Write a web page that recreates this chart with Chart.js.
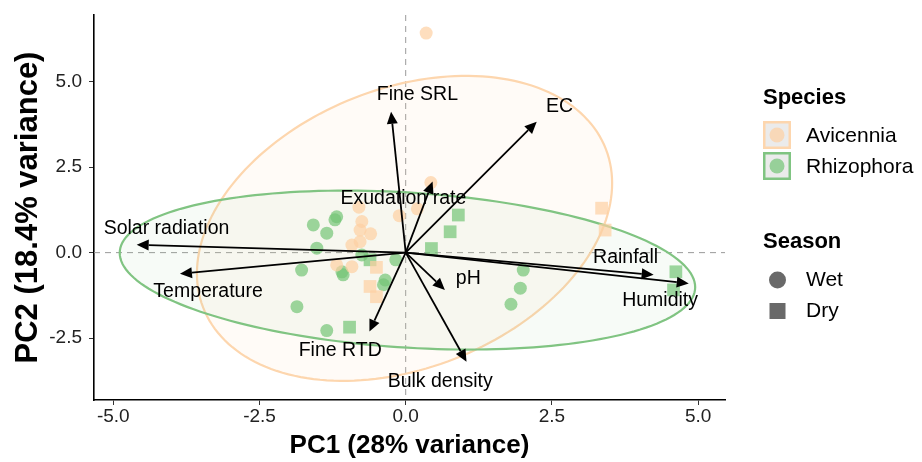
<!DOCTYPE html>
<html>
<head>
<meta charset="utf-8">
<title>PCA biplot</title>
<script src="https://cdn.jsdelivr.net/npm/chart.js@4.4.1/dist/chart.umd.min.js"></script>
<style>
  body { margin: 0; background: #fff; }
  canvas { display: block; }
</style>
</head>
<body>
<canvas id="pca" width="922" height="462"></canvas>
<script>
// Sample scores (PC1, PC2)
const avicenniaWetPC1 = [0.35, 0.43, -0.80, -0.75, -0.78, -0.60, -0.78, -0.92, -1.18, -0.92, -0.11, 0.20];
const avicenniaWetPC2 = [6.42, 2.05, 1.33, 0.91, 0.66, 0.55, 0.32, 0.22, -0.36, -0.41, 1.08, 1.28];
const avicenniaDryPC1 = [-0.50, -0.61, -0.50, 3.35, 3.41];
const avicenniaDryPC2 = [-0.43, -0.99, -1.29, 1.30, 0.66];
const rhizophoraWetPC1 = [-1.58, -1.35, -1.21, -1.18, -1.52, -0.75, -1.78, -1.09, -1.07, -0.35, -0.38, -1.86, -1.35, -0.17, 2.01, 1.96, 1.80];
const rhizophoraWetPC2 = [0.81, 0.57, 0.96, 1.05, 0.13, -0.07, -0.51, -0.56, -0.65, -0.80, -0.94, -1.58, -2.28, -0.21, -0.51, -1.04, -1.51];
const rhizophoraDryPC1 = [-0.61, -0.96, 0.90, 0.76, 0.44, 4.62, 4.58];
const rhizophoraDryPC2 = [-0.21, -2.18, 1.10, 0.61, 0.12, -0.56, -1.09];

// Variable loadings (arrow tips) and where their labels sit
const loadingNames = ['Fine SRL', 'EC', 'Exudation rate', 'Solar radiation', 'Temperature', 'Fine RTD', 'Bulk density', 'pH', 'Rainfall', 'Humidity'];
const loadingPC1 = [-0.25, 2.24, 0.46, -4.60, -3.86, -0.62, 1.04, 0.67, 4.24, 4.84];
const loadingPC2 = [4.12, 3.83, 2.08, 0.23, -0.62, -2.31, -3.19, -1.09, -0.65, -0.90];
const labelPC1 = [0.20, 2.63, -0.04, -4.09, -3.38, -1.12, 0.59, 1.07, 3.76, 4.35];
const labelPC2 = [4.61, 4.27, 1.57, 0.69, -1.14, -2.87, -3.77, -0.75, -0.16, -1.40];

// 95% ellipses per species: centre and two conjugate semi-axes (PC units)
const speciesNames = ['Avicennia', 'Rhizophora'];
const ellipseCentre = [[-0.02, 0.71], [0.03, -0.51]];
const ellipseAxisA = [[3.55, 1.32], [4.92, -0.50]];
const ellipseAxisB = [[0.00, 4.26], [0.00, 2.27]];

const xTicks = [-5, -2.5, 0, 2.5, 5];
const yTicks = [-2.5, 0, 2.5, 5];
const seasonNames = ['Wet', 'Dry'];

const FONT = "'Liberation Sans', Arial, sans-serif";
const speciesFill = ['rgba(253,208,162,0.7)', 'rgba(116,196,118,0.7)'];
const speciesLine = ['rgb(253,214,174)', 'rgb(128,196,130)'];
const ellipseFill = ['rgba(253,208,162,0.09)', 'rgba(140,200,140,0.07)'];

function pairs(xs, ys) {
    return xs.map((v, i) => ({x: v, y: ys[i]}));
}

const pcaExtras = {
    id: 'pcaExtras',
    beforeDatasetsDraw(chart) {
        const {ctx, chartArea: a, scales: {x, y}} = chart;
        ctx.save();
        ctx.beginPath();
        ctx.rect(a.left, a.top, a.right - a.left, a.bottom - a.top);
        ctx.clip();

        // dashed reference lines at zero
        ctx.setLineDash([6, 5]);
        ctx.strokeStyle = '#9a9a9a';
        ctx.lineWidth = 1;
        ctx.beginPath();
        ctx.moveTo(x.getPixelForValue(0), a.top);
        ctx.lineTo(x.getPixelForValue(0), a.bottom);
        ctx.moveTo(a.left, y.getPixelForValue(0));
        ctx.lineTo(a.right, y.getPixelForValue(0));
        ctx.stroke();
        ctx.setLineDash([]);

        // ellipses
        for (let s = 0; s < speciesNames.length; s++) {
            const c = ellipseCentre[s], u = ellipseAxisA[s], v = ellipseAxisB[s];
            ctx.beginPath();
            for (let k = 0; k <= 180; k++) {
                const t = k / 180 * Math.PI * 2;
                const px = x.getPixelForValue(c[0] + Math.cos(t) * u[0] + Math.sin(t) * v[0]);
                const py = y.getPixelForValue(c[1] + Math.cos(t) * u[1] + Math.sin(t) * v[1]);
                if (k === 0) ctx.moveTo(px, py); else ctx.lineTo(px, py);
            }
            ctx.closePath();
            ctx.fillStyle = ellipseFill[s];
            ctx.fill();
            ctx.strokeStyle = speciesLine[s];
            ctx.lineWidth = 2.2;
            ctx.stroke();
        }
        ctx.restore();
    },
    afterDatasetsDraw(chart) {
        const {ctx, scales: {x, y}} = chart;
        const ox = x.getPixelForValue(0), oy = y.getPixelForValue(0);
        ctx.save();
        ctx.strokeStyle = '#000';
        ctx.fillStyle = '#000';
        ctx.lineWidth = 1.8;
        for (let i = 0; i < loadingNames.length; i++) {
            const tx = x.getPixelForValue(loadingPC1[i]);
            const ty = y.getPixelForValue(loadingPC2[i]);
            const ang = Math.atan2(ty - oy, tx - ox);
            const len = 12, half = 5.5;
            const bx = tx - Math.cos(ang) * len, by = ty - Math.sin(ang) * len;
            ctx.beginPath();
            ctx.moveTo(ox, oy);
            ctx.lineTo(bx, by);
            ctx.stroke();
            ctx.beginPath();
            ctx.moveTo(tx, ty);
            ctx.lineTo(bx + Math.sin(ang) * half, by - Math.cos(ang) * half);
            ctx.lineTo(bx - Math.sin(ang) * half, by + Math.cos(ang) * half);
            ctx.closePath();
            ctx.fill();
        }
        ctx.font = '19.5px ' + FONT;
        ctx.textAlign = 'center';
        ctx.textBaseline = 'middle';
        for (let i = 0; i < loadingNames.length; i++) {
            ctx.fillText(loadingNames[i], x.getPixelForValue(labelPC1[i]), y.getPixelForValue(labelPC2[i]));
        }
        ctx.restore();
    },
    afterDraw(chart) {
        // legend drawn by hand: ggplot style keys
        const ctx = chart.ctx;
        const lx = 763;
        ctx.save();
        ctx.textAlign = 'left';
        ctx.textBaseline = 'middle';
        ctx.fillStyle = '#000';
        ctx.font = 'bold 22px ' + FONT;
        ctx.fillText('Species', lx, 98);
        const keyY = [121, 152];
        for (let s = 0; s < speciesNames.length; s++) {
            ctx.fillStyle = '#ebebeb';
            ctx.fillRect(lx, keyY[s], 28, 28);
            ctx.strokeStyle = speciesLine[s];
            ctx.lineWidth = 2.5;
            ctx.strokeRect(lx + 1.25, keyY[s] + 1.25, 25.5, 25.5);
            ctx.fillStyle = speciesFill[s];
            ctx.beginPath();
            ctx.arc(lx + 14, keyY[s] + 14, 7.5, 0, Math.PI * 2);
            ctx.fill();
            ctx.fillStyle = '#000';
            ctx.font = '21px ' + FONT;
            ctx.fillText(speciesNames[s], 806, keyY[s] + 15);
        }
        ctx.font = 'bold 22px ' + FONT;
        ctx.fillText('Season', lx, 242);
        ctx.fillStyle = '#696969';
        ctx.beginPath();
        ctx.arc(777.5, 280, 8.5, 0, Math.PI * 2);
        ctx.fill();
        ctx.fillRect(769.5, 303, 16, 16);
        ctx.fillStyle = '#000';
        ctx.font = '21px ' + FONT;
        ctx.fillText(seasonNames[0], 806, 280);
        ctx.fillText(seasonNames[1], 806, 311);
        ctx.restore();
    }
};

const tickFont = {family: FONT, size: 19};

new Chart(document.getElementById('pca'), {
    type: 'scatter',
    data: {
        datasets: [
            {label: 'Avicennia Wet', data: pairs(avicenniaWetPC1, avicenniaWetPC2), pointStyle: 'circle', pointRadius: 6.5, backgroundColor: speciesFill[0], borderWidth: 0},
            {label: 'Avicennia Dry', data: pairs(avicenniaDryPC1, avicenniaDryPC2), pointStyle: 'rect', pointRadius: 9, backgroundColor: speciesFill[0], borderWidth: 0},
            {label: 'Rhizophora Wet', data: pairs(rhizophoraWetPC1, rhizophoraWetPC2), pointStyle: 'circle', pointRadius: 6.5, backgroundColor: speciesFill[1], borderWidth: 0},
            {label: 'Rhizophora Dry', data: pairs(rhizophoraDryPC1, rhizophoraDryPC2), pointStyle: 'rect', pointRadius: 9, backgroundColor: speciesFill[1], borderWidth: 0}
        ]
    },
    options: {
        responsive: false,
        animation: false,
        layout: {padding: {top: 15, right: 197, left: 0, bottom: 0}},
        plugins: {legend: {display: false}, tooltip: {enabled: false}},
        scales: {
            x: {
                type: 'linear', min: -5.33, max: 5.46,
                afterBuildTicks: s => { s.ticks = xTicks.map(v => ({value: v})); },
                afterFit: s => { s.height = 62; s.paddingLeft = 0; s.paddingRight = 0; },
                ticks: {callback: v => v.toFixed(1), font: tickFont, color: '#222', padding: 0, maxRotation: 0},
                grid: {drawOnChartArea: false, drawTicks: true, tickLength: 5, tickColor: '#333', tickWidth: 1},
                border: {display: true, color: '#000', width: 1.6},
                title: {display: true, text: 'PC1 (28% variance)', color: '#000',
                        font: {family: FONT, size: 26, weight: 'bold', lineHeight: 1}, padding: {top: 0, bottom: 3}}
            },
            y: {
                type: 'linear', min: -4.31, max: 6.95,
                afterBuildTicks: s => { s.ticks = yTicks.map(v => ({value: v})); },
                afterFit: s => { s.width = 94; s.paddingTop = 0; s.paddingBottom = 0; },
                ticks: {callback: v => v.toFixed(1), font: tickFont, color: '#222', padding: 7},
                grid: {drawOnChartArea: false, drawTicks: true, tickLength: 5, tickColor: '#333', tickWidth: 1},
                border: {display: true, color: '#000', width: 1.6},
                title: {display: true, text: 'PC2 (18.4% variance)', color: '#000',
                        font: {family: FONT, size: 31, weight: 'bold', lineHeight: 1}, padding: {top: 13, bottom: 0}}
            }
        }
    },
    plugins: [pcaExtras]
});
</script>
</body>
</html>
